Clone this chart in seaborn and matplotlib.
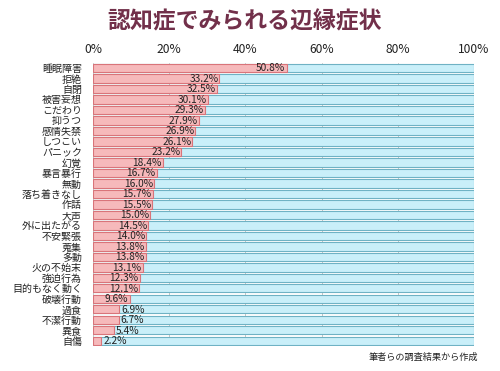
import pandas as pd
import matplotlib.pyplot as plt
import seaborn as sns

symptoms = ['睡眠障害', '拒絶', '自閉', '被害妄想', 'こだわり', '抑うつ', '感情失禁', 'しつこい',
            'パニック', '幻覚', '暴言暴行', '無動', '落ち着きなし', '作話', '大声', '外に出たがる',
            '不安緊張', '蒐集', '多動', '火の不始末', '強迫行為', '目的もなく動く', '破壊行動',
            '過食', '不潔行動', '異食', '自傷']
rates = [50.8, 33.2, 32.5, 30.1, 29.3, 27.9, 26.9, 26.1, 23.2, 18.4, 16.7, 16.0, 15.7, 15.5,
         15.0, 14.5, 14.0, 13.8, 13.8, 13.1, 12.3, 12.1, 9.6, 6.9, 6.7, 5.4, 2.2]
total = [100.0] * len(symptoms)

df = pd.DataFrame({'symptom': symptoms, 'rate': rates, 'total': total})

sns.set_style('white')
plt.rcParams['font.family'] = ['Noto Sans CJK JP', 'DejaVu Sans']

fig = plt.figure(figsize=(5, 3.71), dpi=100)
ax = fig.add_axes([0.186, 0.067, 0.762, 0.764])

sns.barplot(data=df, x='total', y='symptom', orient='h', color='#c9eff9',
            edgecolor='#6fb2c4', linewidth=0.8, width=0.78, saturation=1, ax=ax)
sns.barplot(data=df, x='rate', y='symptom', orient='h', color='#f6b9bb',
            edgecolor='#d9747a', linewidth=0.8, width=0.78, saturation=1, ax=ax)

for i, v in enumerate(rates):
    if v >= 9:
        ax.text(v - 0.3, i + 0.05, f'{v:.1f}%', ha='right', va='center', fontsize=7.3, color='#222222')
    else:
        ax.text(v + 0.6, i + 0.05, f'{v:.1f}%', ha='left', va='center', fontsize=7.3, color='#222222')

ax.set_xlim(0, 100)
ax.set_ylim(len(symptoms) - 0.5, -0.5)
ax.set_xticks([0, 20, 40, 60, 80, 100])
ax.set_xticklabels(['0%', '20%', '40%', '60%', '80%', '100%'])
ax.xaxis.tick_top()
ax.tick_params(axis='x', length=0, labelsize=8.7, pad=5, colors='#222222')
ax.tick_params(axis='y', length=0, labelsize=7.2, pad=8, colors='#222222')
ax.set_xlabel('')
ax.set_ylabel('')
ax.xaxis.grid(True, color='#bbbbbb', linewidth=0.6)
ax.set_axisbelow(True)
for s in ax.spines.values():
    s.set_visible(False)

fig.text(0.49, 0.94, '認知症でみられる辺縁症状', ha='center', va='center', fontsize=16.5,
         fontweight='bold', color='#72304a')
fig.text(0.956, 0.038, '筆者らの調査結果から作成', ha='right', va='center', fontsize=6.6, color='#222222')

fig.savefig('out.png', dpi=100)
